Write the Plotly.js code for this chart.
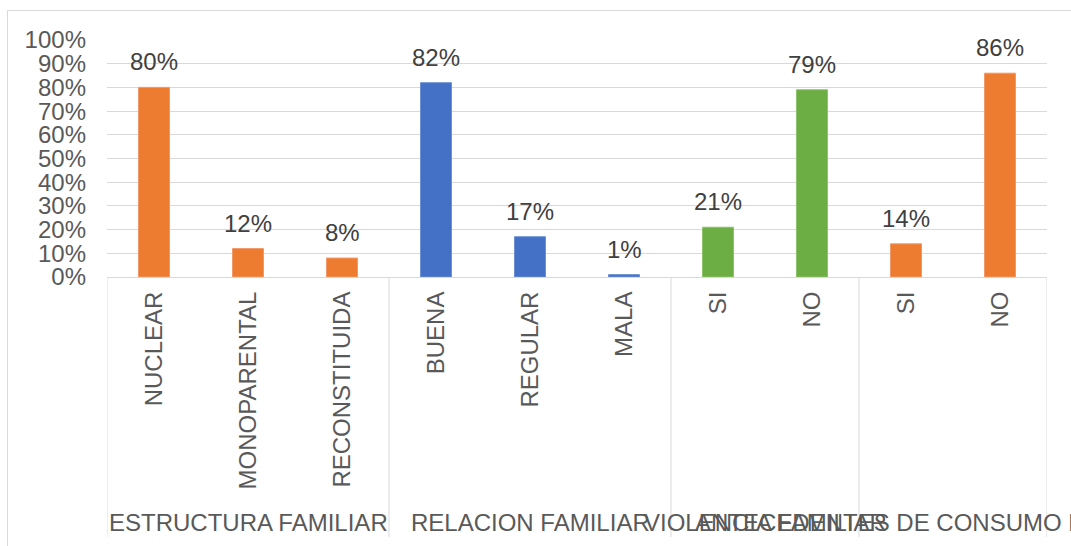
<!DOCTYPE html>
<html>
<head>
<meta charset="utf-8">
<script src="https://cdn.plot.ly/plotly-3.0.1.min.js"></script>
<style>html,body{margin:0;padding:0;background:#fff;}#chart{width:1071px;height:546px;}</style>
</head>
<body>
<div id="chart"></div>
<script>
// ---- data ----
const groups = ["ESTRUCTURA FAMILIAR", "RELACION FAMILIAR", "VIOLENCIA FAMILIAR", "ANTECEDENTES DE CONSUMO DE DROGAS"];
const groupSizes = [3, 3, 2, 2];
const categories = ["NUCLEAR", "MONOPARENTAL", "RECONSTITUIDA", "BUENA", "REGULAR", "MALA", "SI", "NO", "SI", "NO"];
const values = [80, 12, 8, 82, 17, 1, 21, 79, 14, 86];
const yTicks = [0, 10, 20, 30, 40, 50, 60, 70, 80, 90, 100];

// ---- styles ----
const groupColors = ["#EE7C30", "#4471C6", "#6CAE43", "#EE7C30"];
const groupLines  = ["#F2996A", "#6D90D4", "#8DC16C", "#F2996A"];
const FONT = "Liberation Sans, Arial, sans-serif";
const GRID = "#D9D9D9";
const FS = 24;

const xIdx = categories.map((c, i) => i);
const barColors = [], barLines = [];
groupSizes.forEach((n, g) => { for (let k = 0; k < n; k++) { barColors.push(groupColors[g]); barLines.push(groupLines[g]); } });

const shapes = [];
const annotations = [];
let start = 0;
shapes.push({type: "line", xref: "x", yref: "paper", x0: -0.5, x1: -0.5, y0: 0, y1: -1.097, line: {color: GRID, width: 1}});
groupSizes.forEach((n, g) => {
  const end = start + n;
  shapes.push({type: "line", xref: "x", yref: "paper", x0: end - 0.5, x1: end - 0.5, y0: 0, y1: -1.097, line: {color: GRID, width: 1}});
  annotations.push({xref: "x", yref: "paper", x: (start + end - 1) / 2, y: -1.034, text: groups[g], showarrow: false,
    xanchor: "center", yanchor: "middle", font: {family: FONT, size: FS, color: "#595959"}});
  start = end;
});
// chart area border
shapes.push({type: "rect", xref: "paper", yref: "paper", x0: -0.1059, x1: 1.3, y0: -1.6, y1: 1.1245, line: {color: GRID, width: 1}, layer: "below"});

values.forEach((v, i) => {
  annotations.push({xref: "x", yref: "y", x: xIdx[i], y: v, text: v + "%", showarrow: false,
    xanchor: "center", yanchor: "bottom", yshift: 10, font: {family: FONT, size: FS, color: "#404040"}});
});

const trace = {
  type: "bar",
  x: xIdx,
  y: values,
  width: 0.33,
  marker: {color: barColors, line: {color: barLines, width: 1}},
  hoverinfo: "skip"
};

const layout = {
  width: 1071, height: 546,
  margin: {l: 107, r: 24, t: 40, b: 269, pad: 0},
  paper_bgcolor: "#FFFFFF", plot_bgcolor: "#FFFFFF",
  showlegend: false,
  font: {family: FONT, color: "#595959"},
  xaxis: {
    range: [-0.5, 9.5], tickmode: "array", tickvals: xIdx, ticktext: categories,
    tickangle: -90, tickfont: {family: FONT, size: FS, color: "#595959"},
    showgrid: false, zeroline: false, showline: true, linecolor: GRID, linewidth: 1,
    ticks: "", ticklabelstandoff: 4, fixedrange: true
  },
  yaxis: {
    range: [0, 100], tickmode: "array", tickvals: yTicks, ticktext: yTicks.map(t => t + "%"),
    tickfont: {family: FONT, size: FS, color: "#595959"},
    showgrid: true, gridcolor: GRID, gridwidth: 1, zeroline: false, showline: false,
    ticks: "", ticklabelstandoff: 20, fixedrange: true
  },
  shapes: shapes,
  annotations: annotations
};

Plotly.newPlot("chart", [trace], layout, {staticPlot: true, displayModeBar: false});
</script>
</body>
</html>
